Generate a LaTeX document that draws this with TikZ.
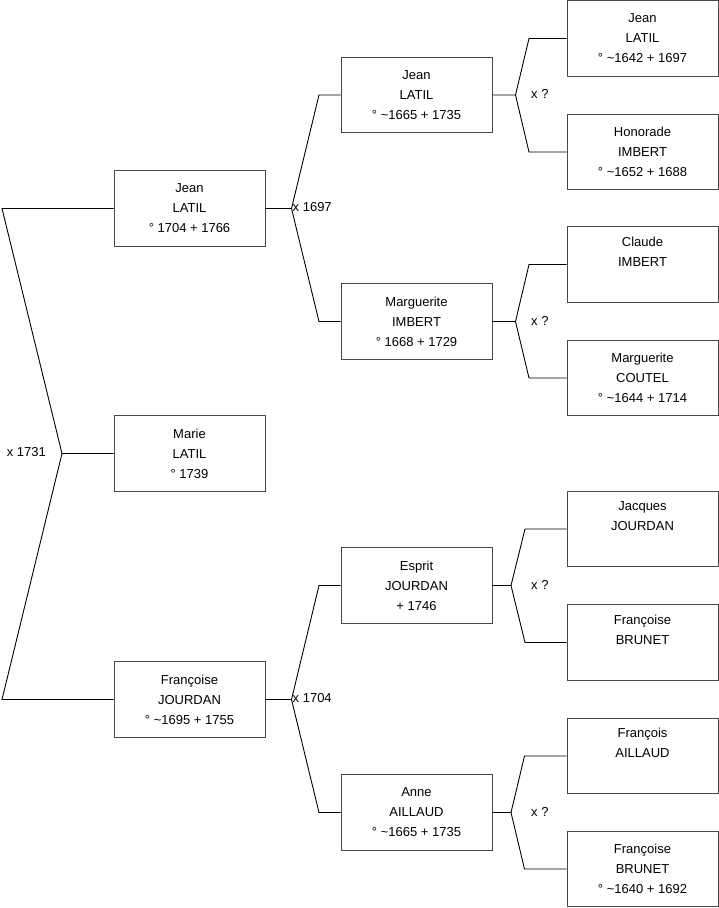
\documentclass[tikz,border=0pt]{standalone}
\usepackage{fontspec}
\setmainfont{Liberation Sans}
\newcommand{\tl}{\textasciitilde}
\begin{document}
\begin{tikzpicture}[x=1pt,y=-1pt,
  person/.style={draw=black!72,line width=1pt,fill=white,minimum width=151pt,minimum height=75.5pt,
    inner sep=0pt,align=center,font=\fontsize{13}{20}\selectfont},
  link/.style={draw=black,line width=0.9pt},
  lbl/.style={inner sep=0pt,font=\fontsize{13}{15}\selectfont}]
\useasboundingbox (0,0) rectangle (719,908);
% generation 1
\node[person] (jean1) at (189.5,208.5) {Jean\\LATIL\\° 1704 + 1766};
\node[person] (marie) at (189.5,453.5) {Marie\\LATIL\\° 1739};
\node[person] (fran1) at (189.5,699.5) {Françoise\\JOURDAN\\° \tl1695 + 1755};
% generation 2
\node[person] (jean2) at (416.5,95) {Jean\\LATIL\\° \tl1665 + 1735};
\node[person] (marg2) at (416.5,321.5) {Marguerite\\IMBERT\\° 1668 + 1729};
\node[person] (espr) at (416.5,585.5) {Esprit\\JOURDAN\\+ 1746};
\node[person] (anne) at (416.5,812.5) {Anne\\AILLAUD\\° \tl1665 + 1735};
% generation 3
\node[person] (jean3) at (642.5,38.5) {Jean\\LATIL\\° \tl1642 + 1697};
\node[person] (hono) at (642.5,152) {Honorade\\IMBERT\\° \tl1652 + 1688};
\node[person] (clau) at (642.5,264.5) {Claude\\IMBERT\\\strut};
\node[person] (marg3) at (642.5,378) {Marguerite\\COUTEL\\° \tl1644 + 1714};
\node[person] (jacq) at (642.5,529) {Jacques\\JOURDAN\\\strut};
\node[person] (fbru1) at (642.5,642.5) {Françoise\\BRUNET\\\strut};
\node[person] (fail) at (642.5,756) {François\\AILLAUD\\\strut};
\node[person] (fbru2) at (642.5,869) {Françoise\\BRUNET\\° \tl1640 + 1692};
% fork points
\coordinate (v0) at (62,453.5);
\coordinate (a0) at (2,208.5);
\coordinate (b0) at (2,699.5);
\coordinate (v1) at (291.5,208.5);
\coordinate (a1) at (319,95);
\coordinate (b1) at (319,321.5);
\coordinate (v2) at (291.5,699.5);
\coordinate (a2) at (319,585.5);
\coordinate (b2) at (319,812.5);
\coordinate (v3) at (515.5,95);
\coordinate (a3) at (529,38.5);
\coordinate (b3) at (529,152);
\coordinate (v4) at (515.5,321.5);
\coordinate (a4) at (529,264.5);
\coordinate (b4) at (529,378);
\coordinate (v5) at (511,585.5);
\coordinate (a5) at (525,529);
\coordinate (b5) at (525,642.5);
\coordinate (v6) at (511,812.5);
\coordinate (a6) at (524.5,756);
\coordinate (b6) at (524.5,869);
% connectors
\draw[link] (jean1.west) -- (a0) -- (v0) -- (marie.west);
\draw[link] (v0) -- (b0) -- (fran1.west);
\draw[link] (jean1.east) -- (v1) -- (a1) -- (jean2.west);
\draw[link] (v1) -- (b1) -- (marg2.west);
\draw[link] (fran1.east) -- (v2) -- (a2) -- (espr.west);
\draw[link] (v2) -- (b2) -- (anne.west);
\draw[link] (jean2.east) -- (v3) -- (a3) -- (jean3.west);
\draw[link] (v3) -- (b3) -- (hono.west);
\draw[link] (marg2.east) -- (v4) -- (a4) -- (clau.west);
\draw[link] (v4) -- (b4) -- (marg3.west);
\draw[link] (espr.east) -- (v5) -- (a5) -- (jacq.west);
\draw[link] (v5) -- (b5) -- (fbru1.west);
\draw[link] (anne.east) -- (v6) -- (a6) -- (fail.west);
\draw[link] (v6) -- (b6) -- (fbru2.west);
% marriage labels
\node[lbl,anchor=east] (m0) at (46,452) {x 1731};
\node[lbl,anchor=west] (m1) at (292.5,207.5) {x 1697};
\node[lbl,anchor=west] (m2) at (292.5,698.5) {x 1704};
\node[lbl,anchor=west] (m3) at (531,94) {x ?};
\node[lbl,anchor=west] (m4) at (531,320.5) {x ?};
\node[lbl,anchor=west] (m5) at (531,584.5) {x ?};
\node[lbl,anchor=west] (m6) at (531,811.5) {x ?};
\end{tikzpicture}
\end{document}
